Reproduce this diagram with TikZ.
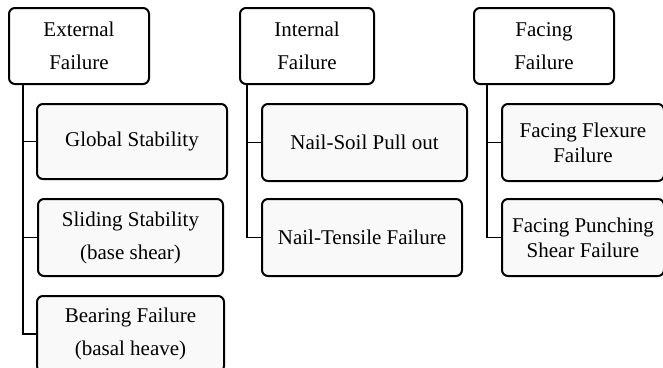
\documentclass[tikz,border=0pt]{standalone}
\usepackage{fontspec}
\setmainfont{Liberation Serif}
\begin{document}
\begin{tikzpicture}[x=1pt,y=-1pt,
  box/.style={draw=black,line width=2pt,rounded corners=6pt,align=center,
    font=\fontsize{21}{33}\selectfont,inner sep=0pt,anchor=north west},
  headbox/.style={box,fill=white},
  childbox/.style={box,fill=gray!5},
  tightbox/.style={childbox,font=\fontsize{21}{25}\selectfont},
  link/.style={draw=black,line width=1.8pt}]
\useasboundingbox (0,0) rectangle (663,367);
% column 1
\node[headbox,minimum width=140pt,minimum height=76pt] (ext) at (8,7) {External\\Failure};
\node[childbox,minimum width=190pt,minimum height=75pt] (gs) at (36,103) {Global Stability};
\node[childbox,minimum width=185pt,minimum height=77pt] (ss) at (37,198) {Sliding Stability\\(base shear)};
\node[childbox,minimum width=187pt,minimum height=76pt] (bf) at (36,295) {Bearing Failure\\(basal heave)};
\coordinate (ea) at (23,83);
\draw[link] (ea) |- (gs.west);
\draw[link] (ea) |- (ss.west);
\draw[link] (ea) |- (bf.west);
% column 2
\node[headbox,minimum width=134pt,minimum height=76pt] (int) at (239,7) {Internal\\Failure};
\node[childbox,minimum width=205pt,minimum height=77pt] (ns) at (261,103) {Nail-Soil Pull out};
\node[childbox,minimum width=200pt,minimum height=77pt] (nt) at (261,198) {Nail-Tensile Failure};
\coordinate (ia) at (247,83);
\draw[link] (ia) |- (ns.west);
\draw[link] (ia) |- (nt.west);
% column 3
\node[headbox,minimum width=140pt,minimum height=76pt] (fac) at (473,7) {Facing\\Failure};
\node[tightbox,minimum width=162pt,minimum height=77pt] (ff) at (501,103) {Facing Flexure\\Failure};
\node[tightbox,minimum width=162pt,minimum height=77pt] (fp) at (501,198) {Facing Punching\\Shear Failure};
\coordinate (fa) at (487,83);
\draw[link] (fa) |- (ff.west);
\draw[link] (fa) |- (fp.west);
\end{tikzpicture}
\end{document}
